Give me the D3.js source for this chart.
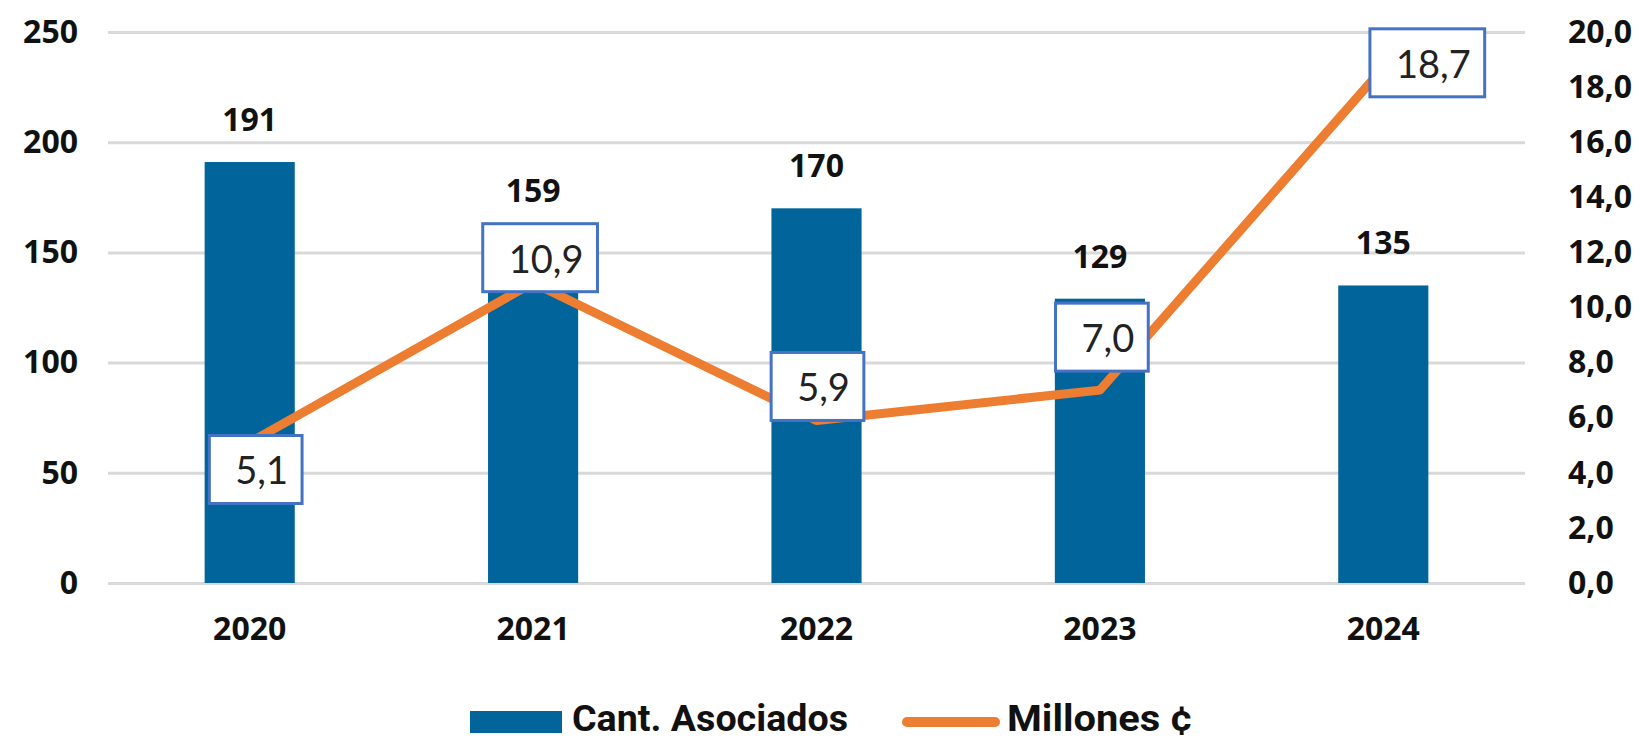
<!DOCTYPE html>
<html>
<head>
<meta charset="utf-8">
<script src="https://cdn.jsdelivr.net/npm/d3@7"></script>
<style>
  body { margin: 0; background: #fff; }
  svg { display: block; }
</style>
</head>
<body>
<div id="chart"></div>
<script>
// data
const years = ["2020", "2021", "2022", "2023", "2024"];
const asociados = [191, 159, 170, 129, 135];
const millones = [5.1, 10.9, 5.9, 7.0, 18.7];
const leftTicks = [0, 50, 100, 150, 200, 250];
const rightTicks = [0, 2, 4, 6, 8, 10, 12, 14, 16, 18, 20];

// where each value box sits relative to its point (Excel style, nudged by hand)
const boxOffsets = [[6, 27], [7, -25], [1, -34], [2, -53], [44, -5]];

const width = 1641;
const height = 737;
const margin = { left: 108, right: 116, top: 32, bottom: 154 };

const barColor = "#01649b";
const lineColor = "#ed7d31";
const boxColor = "#4472c4";

const svg = d3.select("#chart")
    .append("svg")
    .attr("width", width)
    .attr("height", height);

const x = d3.scaleBand()
    .domain(years)
    .range([margin.left, width - margin.right])
    .paddingInner(0.682)
    .paddingOuter(0.341);

const yLeft = d3.scaleLinear()
    .domain([0, 250])
    .range([height - margin.bottom, margin.top]);

const yRight = d3.scaleLinear()
    .domain([0, 20])
    .range([height - margin.bottom, margin.top]);

// gridlines from the left axis
svg.append("g")
    .attr("transform", "translate(" + margin.left + ",0)")
    .call(d3.axisLeft(yLeft).tickValues(leftTicks).tickSize(-(width - margin.left - margin.right)).tickFormat(""))
    .call(g => g.select(".domain").remove())
    .call(g => g.selectAll("line").attr("stroke", "#d9d9d9").attr("stroke-width", 3));

// left axis labels
svg.append("g")
    .attr("transform", "translate(" + (margin.left - 30) + ",0)")
    .call(d3.axisLeft(yLeft).tickValues(leftTicks).tickSize(0).tickPadding(0))
    .call(g => g.select(".domain").remove())
    .call(g => g.selectAll("text")
        .attr("font-family", "'Open Sans', sans-serif")
        .attr("font-weight", 700)
        .attr("font-size", 32)
        .attr("fill", "#111"));

// right axis labels
const fmt = d => d3.format(".1f")(d).replace(".", ",");
svg.append("g")
    .attr("transform", "translate(" + (width - margin.right + 43) + ",0)")
    .call(d3.axisRight(yRight).tickValues(rightTicks).tickSize(0).tickPadding(0).tickFormat(fmt))
    .call(g => g.select(".domain").remove())
    .call(g => g.selectAll("text")
        .attr("font-family", "'Open Sans', sans-serif")
        .attr("font-weight", 700)
        .attr("font-size", 32)
        .attr("fill", "#111"));

// x axis labels
svg.append("g")
    .attr("transform", "translate(0," + (height - margin.bottom) + ")")
    .call(d3.axisBottom(x).tickSize(0).tickPadding(34))
    .call(g => g.select(".domain").remove())
    .call(g => g.selectAll("text")
        .attr("font-family", "'Open Sans', sans-serif")
        .attr("font-weight", 700)
        .attr("font-size", 32)
        .attr("fill", "#111"));

// bars
svg.selectAll("rect.bar")
    .data(asociados)
    .enter().append("rect")
    .attr("class", "bar")
    .attr("x", (d, i) => x(years[i]))
    .attr("y", d => yLeft(d))
    .attr("width", x.bandwidth())
    .attr("height", d => yLeft(0) - yLeft(d))
    .attr("fill", barColor);

// bar value labels
svg.selectAll("text.barlabel")
    .data(asociados)
    .enter().append("text")
    .attr("class", "barlabel")
    .attr("x", (d, i) => x(years[i]) + x.bandwidth() / 2)
    .attr("y", d => yLeft(d) - 31)
    .attr("text-anchor", "middle")
    .attr("font-family", "'Open Sans', sans-serif")
    .attr("font-weight", 700)
    .attr("font-size", 32)
    .attr("fill", "#111")
    .text(d => d);

// line
const line = d3.line()
    .x((d, i) => x(years[i]) + x.bandwidth() / 2)
    .y(d => yRight(d));

svg.append("path")
    .datum(millones)
    .attr("d", line)
    .attr("fill", "none")
    .attr("stroke", lineColor)
    .attr("stroke-width", 9)
    .attr("stroke-linejoin", "round")
    .attr("stroke-linecap", "round");

// boxed value labels
const boxes = svg.selectAll("g.valbox")
    .data(millones)
    .enter().append("g")
    .attr("class", "valbox");

boxes.each(function (d, i) {
    const g = d3.select(this);
    const cx = x(years[i]) + x.bandwidth() / 2 + boxOffsets[i][0];
    const cy = yRight(d) + boxOffsets[i][1];
    const rect = g.append("rect");
    const t = g.append("text")
        .attr("font-family", "Lato, 'Liberation Sans', sans-serif")
        .attr("font-size", 38)
        .attr("fill", "#222")
        .text(fmt(d));
    const tw = t.node().getComputedTextLength();
    const bw = tw + 40;
    const bh = 68;
    rect.attr("x", cx - bw / 2)
        .attr("y", cy - bh / 2)
        .attr("width", bw)
        .attr("height", bh)
        .attr("fill", "#fff")
        .attr("stroke", boxColor)
        .attr("stroke-width", 3);
    t.attr("x", cx - tw / 2 + 6)
        .attr("y", cy - bh / 2 + 49);
});

// legend
const legend = svg.append("g");
legend.append("rect")
    .attr("x", 470).attr("y", 711)
    .attr("width", 92).attr("height", 22)
    .attr("fill", barColor);
legend.append("text")
    .attr("x", 572).attr("y", 731)
    .attr("font-family", "Roboto, sans-serif")
    .attr("font-weight", 700)
    .attr("font-size", 36)
    .attr("textLength", 276)
    .attr("lengthAdjust", "spacingAndGlyphs")
    .attr("fill", "#111")
    .text("Cant. Asociados");
legend.append("line")
    .attr("x1", 907).attr("x2", 995)
    .attr("y1", 722).attr("y2", 722)
    .attr("stroke", lineColor)
    .attr("stroke-width", 10)
    .attr("stroke-linecap", "round");
legend.append("text")
    .attr("x", 1007).attr("y", 731)
    .attr("font-family", "Roboto, sans-serif")
    .attr("font-weight", 700)
    .attr("font-size", 36)
    .attr("textLength", 186)
    .attr("lengthAdjust", "spacingAndGlyphs")
    .attr("fill", "#111")
    .text("Millones ¢");
</script>
</body>
</html>
